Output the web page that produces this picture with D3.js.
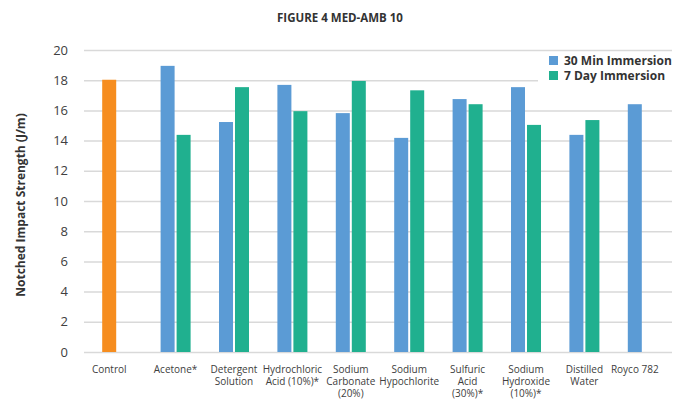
<!DOCTYPE html>
<html>
<head>
<meta charset="utf-8">
<script src="https://cdn.jsdelivr.net/npm/d3@7"></script>
<style>
	html, body { margin: 0; padding: 0; background: #fff; }
	svg { display: block; font-family: "Open Sans", sans-serif; }
</style>
</head>
<body>
<div id="chart"></div>
<script>
// categories, line breaks as in the original axis
const categories = [
	'Control',
	'Acetone*',
	'Detergent\nSolution',
	'Hydrochloric\nAcid (10%)*',
	'Sodium\nCarbonate\n(20%)',
	'Sodium\nHypochlorite',
	'Sulfuric\nAcid\n(30%)*',
	'Sodium\nHydroxide\n(10%)*',
	'Distilled\nWater',
	'Royco 782'
];

const control = [18.03, null, null, null, null, null, null, null, null, null];
const thirtyMin = [null, 18.95, 15.23, 17.69, 15.82, 14.18, 16.75, 17.54, 14.38, 16.41];
const sevenDay = [null, 14.38, 17.54, 15.95, 17.95, 17.33, 16.41, 15.04, 15.36, null];

const seriesNames = ['30 Min Immersion', '7 Day Immersion'];
const yTicks = [0, 2, 4, 6, 8, 10, 12, 14, 16, 18, 20];

const width = 686, height = 417;
const plot = { left: 84, right: 672, top: 50, bottom: 352 };
const colors = { control: '#f68d1f', thirty: '#5b9bd5', seven: '#20b08f' };


let svg = d3.select('#chart').append('svg')
	.attr('width', width)
	.attr('height', height);

//Scales
let y = d3.scaleLinear()
	.domain([0, 20])
	.range([plot.bottom, plot.top]);
let x = d3.scaleBand()
	.domain(categories)
	.range([88, plot.right]);
let pairW = 30;
let slot = d3.scaleBand()
	.domain(seriesNames)
	.range([(x.bandwidth() - pairW) / 2, (x.bandwidth() + pairW) / 2])
	.paddingInner(0.125);

//Grid + y labels
let yAxis = d3.axisLeft(y)
	.tickValues(yTicks)
	.tickSize(-(plot.right - plot.left))
	.tickPadding(16);
let axisGroup = svg.append('g')
	.attr('class', 'y-axis')
	.attr('transform', `translate(${plot.left},0)`)
	.call(yAxis);
axisGroup.select('.domain').remove();
axisGroup.selectAll('line')
	.attr('stroke', '#d9d9d9')
	.attr('stroke-width', 1.5);
axisGroup.selectAll('text')
	.attr('fill', '#404040')
	.style('font-size', '13px')
	.style('font-family', '"Open Sans", sans-serif');

//Bars
let bars = [];
categories.forEach((c, i) => {
	if (control[i] != null) bars.push({ cat: c, key: seriesNames[0], value: control[i], color: colors.control });
	if (thirtyMin[i] != null) bars.push({ cat: c, key: seriesNames[0], value: thirtyMin[i], color: colors.thirty });
	if (sevenDay[i] != null) bars.push({ cat: c, key: seriesNames[1], value: sevenDay[i], color: colors.seven });
});

svg.append('g')
	.attr('class', 'bar-group')
	.selectAll('rect')
	.data(bars)
	.join('rect')
	.attr('x', d => x(d.cat) + slot(d.key))
	.attr('y', d => y(d.value))
	.attr('width', slot.bandwidth())
	.attr('height', d => y(0) - y(d.value))
	.attr('fill', d => d.color);

//Category labels, centred under the bars present
let labelGroup = svg.append('g').attr('class', 'x-labels');
categories.forEach(c => {
	let mine = bars.filter(b => b.cat === c);
	let cx = d3.mean(mine, b => x(c) + slot(b.key) + slot.bandwidth() / 2);
	c.split('\n').forEach((line, k) => {
		labelGroup.append('text')
			.attr('x', cx)
			.attr('y', 373 + k * 12)
			.attr('text-anchor', 'middle')
			.attr('fill', '#404040')
			.style('font-size', '10px')
			.text(line);
	});
});

//Title
svg.append('text')
	.attr('x', 340)
	.attr('y', 22)
	.attr('text-anchor', 'middle')
	.attr('fill', '#333')
	.style('font-size', '11.5px')
	.style('font-weight', 'bold')
	.text('FIGURE 4 MED-AMB 10');

//Y title
svg.append('text')
	.attr('transform', 'translate(25,205) rotate(-90)')
	.attr('text-anchor', 'middle')
	.attr('fill', '#333')
	.style('font-size', '12px')
	.style('font-weight', 'bold')
	.text('Notched Impact Strength (J/m)');

//Legend
let legend = svg.append('g').attr('class', 'legend');
legend.append('rect')
	.attr('x', 538).attr('y', 53)
	.attr('width', 148).attr('height', 31)
	.attr('fill', '#fff');
let legendItems = [
	{ name: seriesNames[0], color: colors.thirty },
	{ name: seriesNames[1], color: colors.seven }
];
legendItems.forEach((d, i) => {
	legend.append('rect')
		.attr('x', 549).attr('y', 56 + i * 15)
		.attr('width', 9).attr('height', 9)
		.attr('fill', d.color);
	legend.append('text')
		.attr('x', 564).attr('y', 65 + i * 15)
		.attr('fill', '#333')
		.style('font-size', '12px')
		.style('font-weight', 'bold')
		.text(d.name);
});
</script>
</body>
</html>
